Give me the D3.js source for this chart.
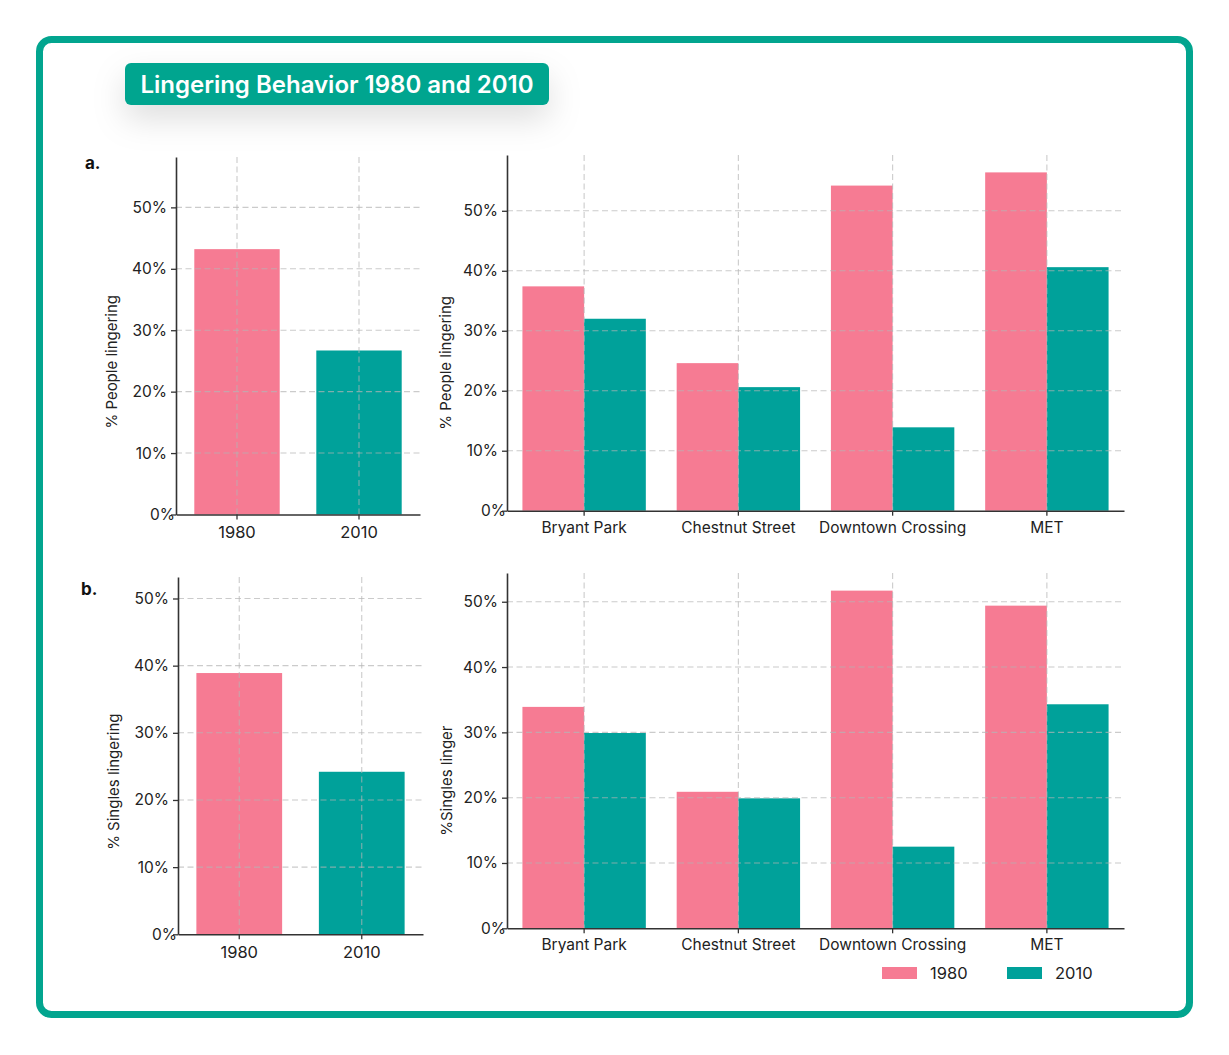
<!DOCTYPE html>
<html>
<head>
<meta charset="utf-8">
<script src="https://d3js.org/d3.v7.min.js"></script>
<style>
  body { margin: 0; background: #fff; }
  svg text { font-family: Inter, "Noto Sans", sans-serif; }
</style>
</head>
<body>
<div id="chart"></div>
<script>
// data (percent)
const years = ["1980", "2010"];
const sites = ["Bryant Park", "Chestnut Street", "Downtown Crossing", "MET"];

const peopleOverall = [43.2, 26.7];
const people1980 = [37.4, 24.6, 54.2, 56.4];
const people2010 = [32.0, 20.6, 13.9, 40.6];

const singlesOverall = [38.9, 24.2];
const singles1980 = [33.9, 20.9, 51.7, 49.4];
const singles2010 = [29.9, 19.9, 12.5, 34.3];

const yTicks = [0, 10, 20, 30, 40, 50];

const pink = "#f67b93";
const teal = "#00a19a";
const frameTeal = "#02a58f";

const svg = d3.select("#chart")
  .append("svg")
  .attr("width", 1229)
  .attr("height", 1055);

// soft shadow for the title badge
const defs = svg.append("defs");
const f = defs.append("filter").attr("id", "shadow")
  .attr("x", "-30%").attr("y", "-80%").attr("width", "160%").attr("height", "300%");
f.append("feDropShadow")
  .attr("dx", 0).attr("dy", 14).attr("stdDeviation", 16)
  .attr("flood-color", "#000").attr("flood-opacity", 0.13);

// outer frame
svg.append("rect")
  .attr("x", 39.5).attr("y", 39.5)
  .attr("width", 1150).attr("height", 975)
  .attr("rx", 12)
  .attr("fill", "#fff")
  .attr("stroke", frameTeal)
  .attr("stroke-width", 7);

// title badge
svg.append("rect")
  .attr("x", 125).attr("y", 63)
  .attr("width", 424).attr("height", 42)
  .attr("rx", 6)
  .attr("fill", frameTeal)
  .attr("filter", "url(#shadow)");
svg.append("text")
  .attr("x", 337).attr("y", 93)
  .attr("text-anchor", "middle")
  .attr("font-size", 24)
  .attr("font-weight", 600)
  .attr("fill", "#fff")
  .text("Lingering Behavior 1980 and 2010");

// panel letters
svg.append("text").attr("x", 85).attr("y", 169)
  .attr("font-size", 17).attr("font-weight", 700).attr("fill", "#111").text("a.");
svg.append("text").attr("x", 81).attr("y", 595)
  .attr("font-size", 17).attr("font-weight", 700).attr("fill", "#111").text("b.");

function styleAxis(g) {
  g.selectAll(".domain").attr("stroke", "#333").attr("stroke-width", 1.6);
  g.selectAll(".tick line").attr("stroke", "#333").attr("stroke-width", 1.3);
  g.selectAll(".tick text").attr("fill", "#222");
}

function drawGrid(g, x0, x1, y0, y1, xs, yScale) {
  const grid = g.append("g")
    .attr("stroke", "#b5b5b5")
    .attr("stroke-opacity", 0.7)
    .attr("stroke-width", 1.1)
    .attr("stroke-dasharray", "6,3.5");
  grid.selectAll(".h")
    .data(yTicks.filter(d => d > 0))
    .join("line")
    .attr("x1", x0).attr("x2", x1)
    .attr("y1", d => yScale(d)).attr("y2", d => yScale(d));
  grid.selectAll(".v")
    .data(xs)
    .join("line")
    .attr("x1", d => d).attr("x2", d => d)
    .attr("y1", y0).attr("y2", y1);
}

function yAxis(g, x0, yScale, fs) {
  const ax = g.append("g")
    .attr("transform", `translate(${x0},0)`)
    .call(d3.axisLeft(yScale).tickValues(yTicks).tickFormat(d => d + "%")
      .tickSize(5).tickPadding(4).tickSizeOuter(0));
  ax.selectAll(".tick text").attr("font-size", fs).attr("font-family", null);
  ax.selectAll(".tick").filter(d => d === 0).select("text").attr("dx", 8);
  styleAxis(ax);
  return ax;
}

function yLabel(g, x, y, text) {
  g.append("text")
    .attr("transform", `translate(${x},${y}) rotate(-90)`)
    .attr("text-anchor", "middle")
    .attr("dominant-baseline", "middle")
    .attr("font-size", 15)
    .attr("fill", "#222")
    .text(text);
}

// small overall chart
function overallPanel(opt) {
  const g = svg.append("g");
  const x = d3.scaleBand().domain(years).range([opt.x0, opt.x1])
    .paddingInner(0.3).paddingOuter(0.15);
  const y = d3.scaleLinear().domain([0, opt.ymax]).range([opt.yb, opt.yt]);

  g.selectAll("rect")
    .data(opt.values)
    .join("rect")
    .attr("x", (_, i) => x(years[i]))
    .attr("y", d => y(d))
    .attr("width", x.bandwidth())
    .attr("height", d => opt.yb - y(d))
    .attr("fill", (_, i) => i === 0 ? pink : teal);

  drawGrid(g, opt.x0, opt.x1, opt.yt, opt.yb,
    years.map(d => x(d) + x.bandwidth() / 2), y);

  yAxis(g, opt.x0, y, 15.5);
  const xa = g.append("g")
    .attr("transform", `translate(0,${opt.yb})`)
    .call(d3.axisBottom(x).tickSize(5).tickPadding(7).tickSizeOuter(0));
  xa.selectAll(".tick text").attr("font-size", 16.5).attr("font-family", null);
  styleAxis(xa);
  yLabel(g, opt.labelX, (opt.yt + opt.yb) / 2 + 26, opt.label);
}

// grouped by site chart
function sitePanel(opt) {
  const g = svg.append("g");
  const x = d3.scaleBand().domain(sites).range([opt.x0, opt.x1])
    .paddingInner(0.2).paddingOuter(0.1);
  const xi = d3.scaleBand().domain(years).range([0, x.bandwidth()]);
  const y = d3.scaleLinear().domain([0, opt.ymax]).range([opt.yb, opt.yt]);

  const series = [opt.v1980, opt.v2010];
  series.forEach((vals, k) => {
    g.append("g").selectAll("rect")
      .data(vals)
      .join("rect")
      .attr("x", (_, i) => x(sites[i]) + xi(years[k]))
      .attr("y", d => y(d))
      .attr("width", xi.bandwidth())
      .attr("height", d => opt.yb - y(d))
      .attr("fill", k === 0 ? pink : teal);
  });

  drawGrid(g, opt.x0, opt.x1, opt.yt, opt.yb,
    sites.map(d => x(d) + x.bandwidth() / 2), y);

  yAxis(g, opt.x0, y, 15.5);
  const xa = g.append("g")
    .attr("transform", `translate(0,${opt.yb})`)
    .call(d3.axisBottom(x).tickSize(5).tickPadding(6).tickSizeOuter(0));
  xa.selectAll(".tick text").attr("font-size", 15.5).attr("font-family", null);
  styleAxis(xa);
  yLabel(g, opt.labelX, (opt.yt + opt.yb) / 2 + 30, opt.label);
  return { x, y };
}

overallPanel({ x0: 176, x1: 420, yt: 157, yb: 514.5, ymax: 58.2,
  values: peopleOverall, label: "% People lingering", labelX: 113 });

sitePanel({ x0: 507, x1: 1124, yt: 155, yb: 510.7, ymax: 59.3,
  v1980: people1980, v2010: people2010, label: "% People lingering", labelX: 447 });

overallPanel({ x0: 178, x1: 423, yt: 577, yb: 934.3, ymax: 53.2,
  values: singlesOverall, label: "% Singles lingering", labelX: 115 });

sitePanel({ x0: 507, x1: 1124, yt: 573, yb: 928.3, ymax: 54.4,
  v1980: singles1980, v2010: singles2010, label: "%Singles linger", labelX: 448 });

// legend
const legend = svg.append("g").attr("transform", "translate(882,967)");
years.forEach((yr, i) => {
  const lg = legend.append("g").attr("transform", `translate(${i * 125},0)`);
  lg.append("rect").attr("width", 35).attr("height", 12)
    .attr("fill", i === 0 ? pink : teal);
  lg.append("text").attr("x", 48).attr("y", 12)
    .attr("font-size", 16.5).attr("fill", "#222").text(yr);
});
</script>
</body>
</html>
